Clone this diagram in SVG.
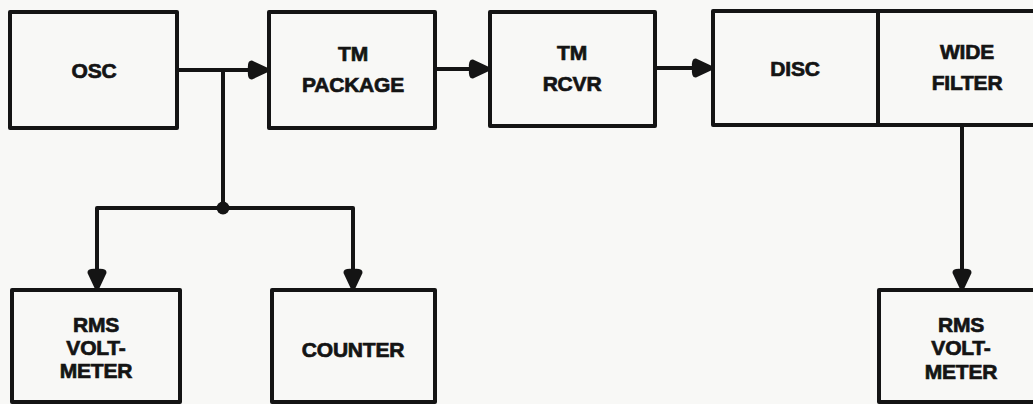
<svg xmlns="http://www.w3.org/2000/svg" width="1033" height="404" viewBox="0 0 1033 404">
<defs>
<marker id="arr" markerUnits="userSpaceOnUse" markerWidth="24" markerHeight="24" refX="21" refY="12" orient="auto" overflow="visible">
<path d="M1,12 Q0,2 5,2.5 L21,10 L21,14 L5,21.5 Q0,22 1,12 Z" fill="#141414"/>
</marker>
</defs>
<style>
.box{fill:none;stroke:#141414;stroke-width:4;stroke-linejoin:round}
.wire{fill:none;stroke:#141414;stroke-width:4;stroke-linejoin:round}
.lbl{font-family:"Liberation Sans",Arial,sans-serif;font-weight:bold;font-size:21px;fill:#141414;stroke:#141414;stroke-width:0.7;text-anchor:middle;letter-spacing:-0.2px}
</style>
<rect x="0" y="0" width="1033" height="404" fill="#f8f8f6"/>
<g id="connectors">
<line class="wire" x1="177" y1="70" x2="268" y2="70" marker-end="url(#arr)"/>
<line class="wire" x1="435" y1="69" x2="489" y2="69" marker-end="url(#arr)"/>
<line class="wire" x1="655" y1="68" x2="712" y2="68" marker-end="url(#arr)"/>
<polyline class="wire" points="223,70 223,208"/>
<polyline class="wire" points="97,270 97,208 353,208 353,270"/>
<line class="wire" x1="97" y1="240" x2="97" y2="289" marker-end="url(#arr)"/>
<line class="wire" x1="353" y1="240" x2="353" y2="289" marker-end="url(#arr)"/>
<line class="wire" x1="962" y1="125" x2="962" y2="289" marker-end="url(#arr)"/>
<circle cx="223" cy="208" r="6.5" fill="#141414"/>
</g>
<g id="osc">
<rect class="box" x="10" y="12" width="167" height="116"/>
<text class="lbl" x="94" y="78">OSC</text>
</g>
<g id="tm-package">
<rect class="box" x="269" y="12" width="166" height="116"/>
<text class="lbl" x="353" y="61">TM</text>
<text class="lbl" x="353" y="92">PACKAGE</text>
</g>
<g id="tm-rcvr">
<rect class="box" x="490" y="12" width="165" height="114"/>
<text class="lbl" x="572" y="60">TM</text>
<text class="lbl" x="572" y="91">RCVR</text>
</g>
<g id="disc">
<rect class="box" x="713" y="11" width="165" height="114"/>
<text class="lbl" x="795" y="76">DISC</text>
</g>
<g id="wide-filter">
<rect class="box" x="878" y="11" width="170" height="114"/>
<text class="lbl" x="967" y="59">WIDE</text>
<text class="lbl" x="967" y="90">FILTER</text>
</g>
<g id="rms-voltmeter-1">
<rect class="box" x="12" y="290" width="168" height="112"/>
<text class="lbl" x="96" y="332">RMS</text>
<text class="lbl" x="96" y="355">VOLT-</text>
<text class="lbl" x="96" y="378">METER</text>
</g>
<g id="counter">
<rect class="box" x="272" y="290" width="163" height="112"/>
<text class="lbl" x="353" y="357">COUNTER</text>
</g>
<g id="rms-voltmeter-2">
<rect class="box" x="879" y="290" width="170" height="112"/>
<text class="lbl" x="961" y="332">RMS</text>
<text class="lbl" x="961" y="355">VOLT-</text>
<text class="lbl" x="961" y="379">METER</text>
</g>
</svg>
